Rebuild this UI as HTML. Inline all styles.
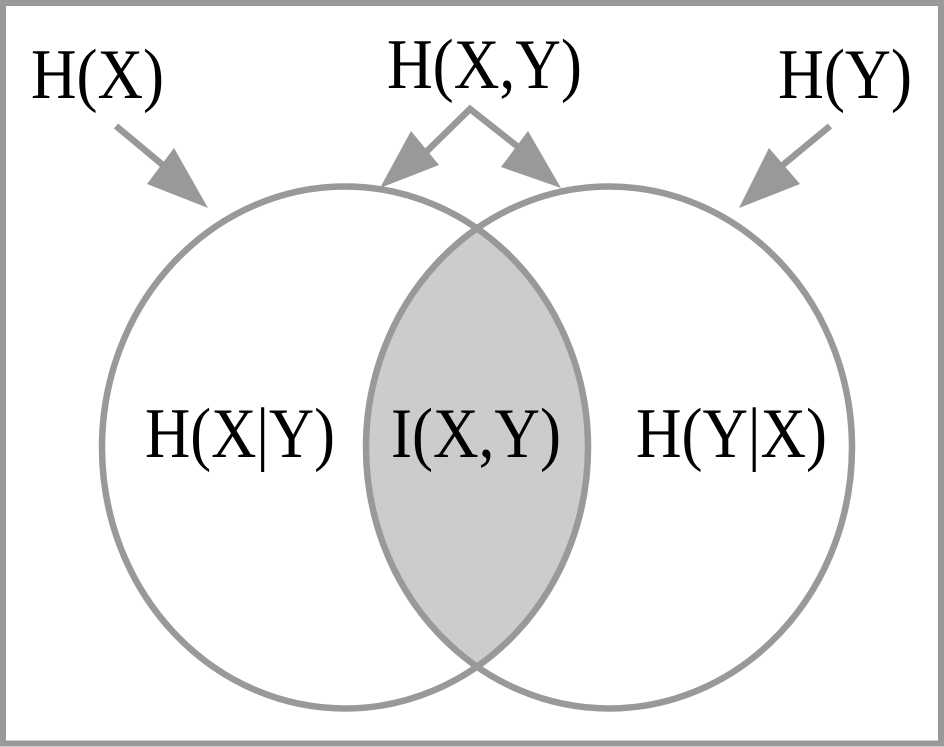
<!DOCTYPE html>
<html>
<head>
<meta charset="utf-8">
<style>
html,body{margin:0;padding:0;background:#fff;}
svg{display:block;}
text{font-family:"Liberation Serif",serif;font-size:71px;fill:#000;}
</style>
</head>
<body>
<svg width="944" height="747" viewBox="0 0 944 747" xmlns="http://www.w3.org/2000/svg">
<rect x="0" y="0" width="944" height="747" fill="#fff"/>
<rect x="3" y="3" width="938" height="740.5" fill="none" stroke="#999" stroke-width="6"/>
<path d="M477 229.5 A243 261 0 0 1 477 666 A243 261 0 0 1 477 229.5 Z" fill="#ccc"/>
<ellipse cx="345" cy="447.5" rx="243" ry="261" fill="none" stroke="#999" stroke-width="6.5"/>
<ellipse cx="609" cy="447.5" rx="243" ry="261" fill="none" stroke="#999" stroke-width="6.5"/>
<line x1="116" y1="126" x2="170" y2="171" stroke="#999" stroke-width="6.5"/>
<polygon points="208,208 147,184 174,148" fill="#999"/>
<line x1="830" y1="126" x2="778" y2="169" stroke="#999" stroke-width="6.5"/>
<polygon points="739,208 769,148 800,184" fill="#999"/>
<polyline points="420,158 470,109 522,150" fill="none" stroke="#999" stroke-width="6.5"/>
<polygon points="380,188 411,131 439,165" fill="#999"/>
<polygon points="561,188 501,167 528,131" fill="#999"/>
<text x="31" y="98" textLength="133" lengthAdjust="spacingAndGlyphs">H(X)</text>
<text x="387" y="88" textLength="195" lengthAdjust="spacingAndGlyphs">H(X,Y)</text>
<text x="778" y="98" textLength="134" lengthAdjust="spacingAndGlyphs">H(Y)</text>
<text x="145" y="457" textLength="190" lengthAdjust="spacingAndGlyphs">H(X|Y)</text>
<text x="391" y="457" textLength="170" lengthAdjust="spacingAndGlyphs">I(X,Y)</text>
<text x="636" y="457" textLength="191" lengthAdjust="spacingAndGlyphs">H(Y|X)</text>
</svg>
</body>
</html>
